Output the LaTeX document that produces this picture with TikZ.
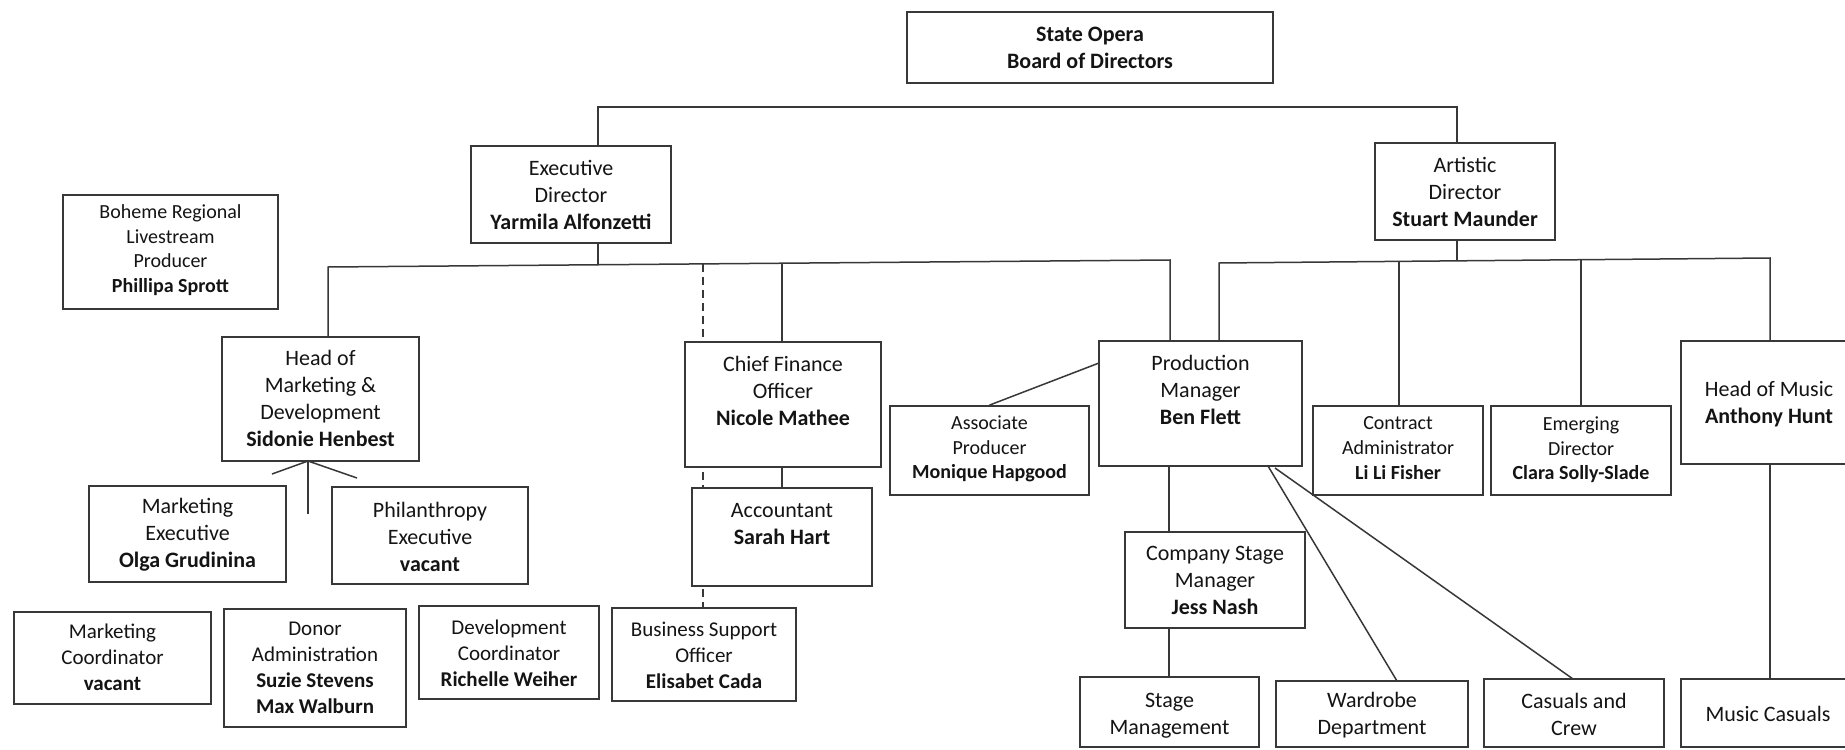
\documentclass[tikz,border=0pt]{standalone}
\usepackage{fontspec}
\setmainfont{Carlito}
\usetikzlibrary{fit,backgrounds}
\definecolor{lc}{gray}{0.22}
\definecolor{tc}{gray}{0.08}
\tikzset{
  box/.style={draw=lc, line width=0.9pt, fill=white, inner sep=0pt},
  main/.style={font=\fontsize{11}{13.5}\selectfont},
  low/.style={font=\fontsize{10.5}{13}\selectfont},
  small/.style={font=\fontsize{10}{12.3}\selectfont},
  txt/.style={align=center, text=tc, inner sep=0pt},
  conn/.style={draw=lc, line width=0.75pt},
  dconn/.style={draw=lc, line width=0.75pt, dash pattern=on 4pt off 2.5pt},
}
% #1 name, #2-#5 corners, #6 font style, #7 text centre y, #8 text
\newcommand\orgbox[8]{%
  \node[box,fit={(#2,#3)(#4,#5)}] (#1) {};
  \node[txt,#6] (#1t) at (#1.center |- 0,#7) {#8};}
\begin{document}
\begin{tikzpicture}[x=0.5pt,y=-0.5pt]
\clip (0,0) rectangle (1845,749);

% boxes
\orgbox{board}{907}{12}{1273}{83}{main}{47.5}{\textbf{State Opera}\\\textbf{Board of Directors}}
\orgbox{exec}{471}{146}{671}{243}{main}{195}{Executive\\Director\\\textbf{Yarmila Alfonzetti}}
\orgbox{art}{1375}{143}{1555}{240}{main}{192}{Artistic\\Director\\\textbf{Stuart Maunder}}
\orgbox{boh}{63}{195}{278}{309}{small}{250}{Boheme Regional\\Livestream\\Producer\\\textbf{Phillipa Sprott}}
\orgbox{hom}{222}{337}{419}{461}{main}{398.5}{Head of\\Marketing \&\\Development\\\textbf{Sidonie Henbest}}
\orgbox{cfo}{685}{342}{881}{467}{main}{391}{Chief Finance\\Officer\\\textbf{Nicole Mathee}}
\orgbox{pm}{1099}{341}{1302}{466}{main}{389.5}{Production\\Manager\\\textbf{Ben Flett}}
\node[box,fit={(1681,341)(1859,464)}] (hmu) {};
\node[txt,main] (hmut) at (1769,404) {Head of Music\\\textbf{Anthony Hunt}};
\orgbox{mex}{89}{486}{286}{582}{main}{535}{Marketing\\Executive\\\textbf{Olga Grudinina}}
\orgbox{phil}{332}{487}{528}{584}{main}{537}{Philanthropy\\Executive\\\textbf{vacant}}
\orgbox{acc}{692}{488}{872}{586}{main}{524}{Accountant\\\textbf{Sarah Hart}}
\orgbox{ap}{890}{406}{1089}{495}{small}{449}{Associate\\Producer\\\textbf{Monique Hapgood}}
\orgbox{ca}{1313}{406}{1483}{495}{small}{448}{Contract\\Administrator\\\textbf{Li Li Fisher}}
\orgbox{ed}{1491}{406}{1671}{495}{small}{450}{Emerging\\Director\\\textbf{Clara Solly-Slade}}
\orgbox{csm}{1125}{532}{1305}{628}{main}{580}{Company Stage\\Manager\\\textbf{Jess Nash}}
\orgbox{mco}{14}{612}{211}{704}{low}{657}{Marketing\\Coordinator\\\textbf{vacant}}
\orgbox{don}{224}{609}{406}{727}{low}{668}{Donor\\Administration\\\textbf{Suzie Stevens}\\\textbf{Max Walburn}}
\orgbox{dco}{419}{606}{599}{699}{low}{653}{Development\\Coordinator\\\textbf{Richelle Weiher}}
\orgbox{bso}{612}{608}{796}{701}{low}{655}{Business Support\\Officer\\\textbf{Elisabet Cada}}
\orgbox{sm}{1080}{677}{1259}{747}{main}{715.5}{Stage\\Management}
\orgbox{wd}{1276}{681}{1468}{747}{main}{715.5}{Wardrobe\\Department}
\orgbox{cc}{1484}{679}{1664}{747}{main}{714}{Casuals and\\Crew}
\node[box,fit={(1681,679)(1859,747)}] (mc) {};
\node[txt,main] (mct) at (1768,714) {Music Casuals};

% bus coordinates
\coordinate (tb1) at (598,107);
\coordinate (tb2) at (1457,107);
\coordinate (eb0) at (598,264.8);
\coordinate (eL) at (328,267);
\coordinate (eD) at (703,263.9);
\coordinate (eC) at (782,263.2);
\coordinate (eR) at (1170,260);
\coordinate (ab0) at (1457,260.9);
\coordinate (aL) at (1219,263);
\coordinate (aC) at (1399,261.4);
\coordinate (aE) at (1581,259.7);
\coordinate (aR) at (1770,258);
\coordinate (hb) at (308,461);
\coordinate (hl) at (272,474);
\coordinate (hr) at (357,478);
\coordinate (hd) at (308,514);
\coordinate (pmL) at (1099,363);
\coordinate (pmD) at (1169,466);
\coordinate (pmW) at (1268,466);
\coordinate (pmC) at (1275,468);
\coordinate (wdt) at (1397,681);
\coordinate (cct) at (1573,679);

\begin{scope}[on background layer]
\fill[white] (0,0) rectangle (1845,749);
\draw[conn] (exec.north -| tb1) -- (tb1) -- (tb2) -- (art.north -| tb2);
\draw[conn] (exec.south -| eb0) -- (eb0);
\draw[conn] (hom.north -| eL) -- (eL) -- (eR) -- (pm.north -| eR);
\draw[conn] (eC) -- (cfo.north -| eC);
\draw[dconn] (eD) -- (bso.north -| eD);
\draw[conn] (art.south -| ab0) -- (ab0);
\draw[conn] (pm.north -| aL) -- (aL) -- (aR) -- (hmu.north -| aR);
\draw[conn] (aC) -- (ca.north -| aC);
\draw[conn] (aE) -- (ed.north -| aE);
\draw[conn] (cfo.south -| eC) -- (acc.north -| eC);
\draw[conn] (pmL) -- (ap.north);
\draw[conn] (pmD) -- (csm.north -| pmD);
\draw[conn] (csm.south -| pmD) -- (sm.north -| pmD);
\draw[conn] (pmW) -- (wdt);
\draw[conn] (pmC) -- (cct);
\draw[conn] (hmu.south -| aR) -- (mc.north -| aR);
\draw[conn] (hb) -- (hl);
\draw[conn] (hb) -- (hr);
\draw[conn] (hb) -- (hd);
\end{scope}
\end{tikzpicture}
\end{document}
